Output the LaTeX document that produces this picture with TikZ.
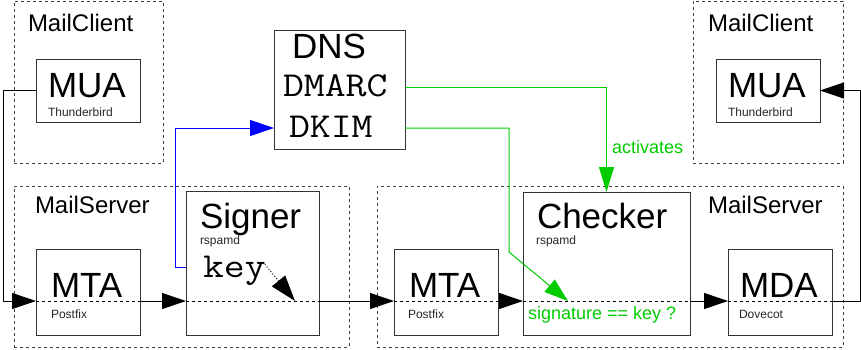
\documentclass[tikz,border=0pt]{standalone}
\usepackage{fontspec}
\setmainfont{Liberation Sans}
\setmonofont[FakeStretch=1.16]{Latin Modern Mono}
\usetikzlibrary{arrows.meta}
\definecolor{okgreen}{RGB}{0,204,0}

\begin{document}
\begin{tikzpicture}[x=1pt, y=-1pt,
		box/.style={draw=black!80, line width=1pt, inner sep=0pt, outer sep=0pt},
		group/.style={draw=black!75, line width=1pt, dash pattern=on 3pt off 3pt, inner sep=0pt, outer sep=0pt},
		txt/.style={anchor=base west, inner sep=0pt, outer sep=0pt},
		big/.style={txt, font=\fontsize{35}{40}\selectfont},
		mono/.style={txt, font=\ttfamily\fontsize{35}{40}\selectfont},
		title/.style={txt, font=\fontsize{24}{28}\selectfont},
		small/.style={txt, font=\fontsize{12}{14}\selectfont, text=black!85},
		flow/.style={line width=1pt, -{Triangle[length=24pt, width=16pt]}},
		inside/.style={line width=1pt, dash pattern=on 3pt off 3pt}]
		\useasboundingbox (0,0) rectangle (861,349);

		\node[group, minimum width=149, minimum height=162] (clientL) at (88.5,82) {};
		\node[group, minimum width=335, minimum height=161] (serverL) at (181.5,266.5) {};
		\node[group, minimum width=466, minimum height=161] (serverR) at (610,266.5) {};
		\node[group, minimum width=150, minimum height=162] (clientR) at (768,82) {};
		\node[title] (clientLname) at (28,31) {MailClient};
		\node[title] (serverLname) at (35,213) {MailServer};
		\node[title] (serverRname) at (708,213) {MailServer};
		\node[title] (clientRname) at (708,31) {MailClient};

		\node[box, minimum width=104, minimum height=63] (muaL) at (88,90.5) {};
		\node[box, minimum width=104, minimum height=86] (mtaL) at (88,292) {};
		\node[box, minimum width=133, minimum height=144] (signer) at (252.5,263) {};
		\node[box, minimum width=131, minimum height=119] (dns) at (339.5,89.5) {};
		\node[box, minimum width=104, minimum height=86] (mtaR) at (446,292) {};
		\node[box, minimum width=167, minimum height=143] (checker) at (606.5,263.5) {};
		\node[box, minimum width=104, minimum height=86] (mda) at (780,292) {};
		\node[box, minimum width=104, minimum height=63] (muaR) at (768,90.5) {};

		\node[big] (muaLname) at (48,97) {MUA};
		\node[small] (muaLsoft) at (48,116) {Thunderbird};
		\node[big] (mtaLname) at (51,297) {MTA};
		\node[small] (mtaLsoft) at (51,318) {Postfix};
		\node[big] (signerName) at (200,228) {Signer};
		\node[small] (signerSoft) at (200,244) {rspamd};
		\node[mono] (key) at (203,277) {key};
		\node[big] (dnsName) at (292,58) {DNS};
		\node[mono] (dmarc) at (283,96) {DMARC};
		\node[mono] (dkim) at (289,137) {DKIM};
		\node[big] (mtaRname) at (409,297) {MTA};
		\node[small] (mtaRsoft) at (408,318) {Postfix};
		\node[big] (checkerName) at (537,228) {Checker};
		\node[small] (checkerSoft) at (536,244) {rspamd};
		\node[txt, font=\fontsize{18}{22}\selectfont, text=okgreen] (compare) at (528,319) {signature == key ?};
		\node[big] (mdaName) at (740,297) {MDA};
		\node[small] (mdaSoft) at (739,318) {Dovecot};
		\node[big] (muaRname) at (728,97) {MUA};
		\node[small] (muaRsoft) at (728,116) {Thunderbird};
		\node[txt, font=\fontsize{18}{22}\selectfont, text=okgreen] (activates) at (612,153) {activates};

		\coordinate (mtaLin) at (36,301);
		\coordinate (mtaLout) at (140,301);
		\coordinate (signIn) at (186,301);
		\coordinate (keyTip) at (295,301);
		\coordinate (signOut) at (319,301);
		\coordinate (mtaRin) at (394,301);
		\coordinate (mtaRout) at (498,301);
		\coordinate (chkIn) at (523,301);
		\coordinate (sigTip) at (568,301);
		\coordinate (chkOut) at (690,301);
		\coordinate (mdaIn) at (728,301);
		\coordinate (mdaOut) at (832,301);
		\coordinate (signKey) at (186,267);
		\coordinate (keyEnd) at (263,262);
		\coordinate (dnsIn) at (274,128);
		\coordinate (dmarcOut) at (405,87);
		\coordinate (dkimOut) at (405,128);

		\draw[flow] (muaL.west) -- ++(-33,0) |- (mtaLin);
		\draw[inside] (mtaLin) -- (mtaLout);
		\draw[flow] (mtaLout) -- (signIn);
		\draw[inside] (signIn) -- (signOut);
		\draw[line width=1pt, dotted, -{Triangle[length=26pt, width=17pt]}] (keyEnd) -- (keyTip);
		\draw[flow] (signOut) -- (mtaRin);
		\draw[inside] (mtaRin) -- (mtaRout);
		\draw[flow] (mtaRout) -- (chkIn);
		\draw[inside] (chkIn) -- (chkOut);
		\draw[flow] (chkOut) -- (mdaIn);
		\draw[inside] (mdaIn) -- (mdaOut);
		\draw[flow] (mdaOut) -- ++(28,0) |- (muaR.east);

		\draw[flow, blue] (signKey) -- ++(-11,0) |- (dnsIn);
		\draw[flow, okgreen, -{Triangle[length=25pt, width=15pt]}] (dmarcOut) -| (checker.north);
		\draw[flow, okgreen] (dkimOut) -- ++(104,0) -- ++(0,124) -- (sigTip);
	\end{tikzpicture}
\end{document}
